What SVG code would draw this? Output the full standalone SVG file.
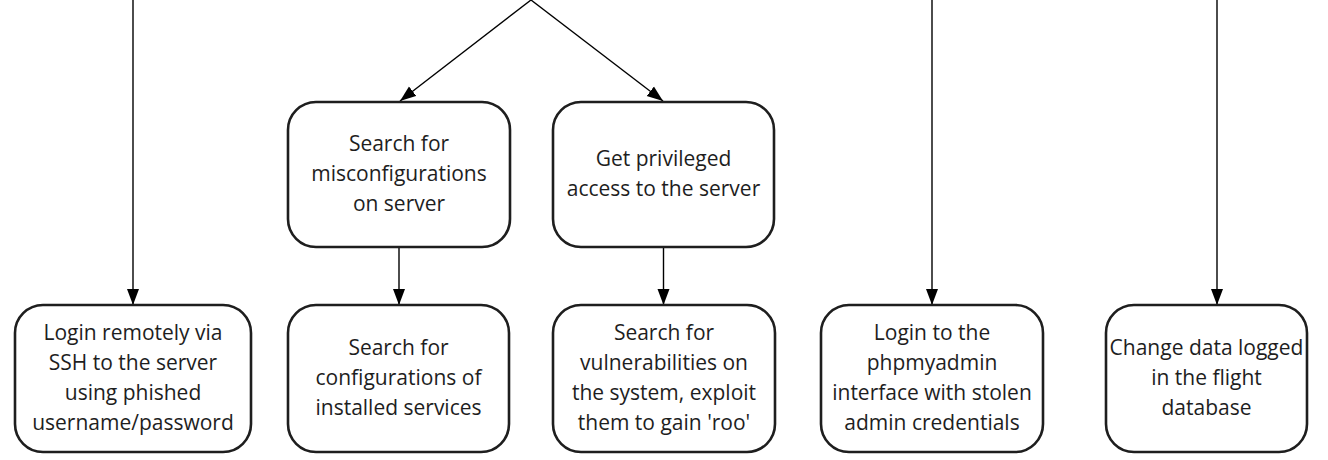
<svg xmlns="http://www.w3.org/2000/svg" width="1328" height="460" viewBox="0 0 1328 460">
  <defs>
    <marker id="arr" markerUnits="userSpaceOnUse" markerWidth="18" markerHeight="14" refX="16" refY="6.5" orient="auto">
      <path d="M0,0.5 L16,6.5 L0,12.5 z" fill="#000"/>
    </marker>
    <style>
      .box { fill: #fff; stroke: #1e1e1e; stroke-width: 2.6; }
      .edge { fill: none; stroke: #000; stroke-width: 1.4; marker-end: url(#arr); }
      text { font-family: "Open Sans", "Noto Sans", "Liberation Sans", sans-serif; font-size: 21px; fill: #1e1e1e; text-anchor: middle; }
    </style>
  </defs>
  <rect width="1328" height="460" fill="#fff"/>

  <g id="connectors">
    <path class="edge" d="M133,0 L133,305"/>
    <path class="edge" d="M531,0 L400,101"/>
    <path class="edge" d="M531,0 L663,101"/>
    <path class="edge" d="M399,247 L399,305"/>
    <path class="edge" d="M663.5,247 L663.5,305"/>
    <path class="edge" d="M932,0 L932,305"/>
    <path class="edge" d="M1217,0 L1217,305"/>
  </g>

  <g id="n-misconfig">
    <rect class="box" x="288" y="102" width="222" height="145" rx="28"/>
    <text x="399" y="151">Search for</text>
    <text x="399" y="181">misconfigurations</text>
    <text x="399" y="211">on server</text>
  </g>
  <g id="n-privileged">
    <rect class="box" x="553" y="102" width="221" height="145" rx="28"/>
    <text x="663.5" y="166">Get privileged</text>
    <text x="663.5" y="196">access to the server</text>
  </g>

  <g id="n-ssh">
    <rect class="box" x="15" y="305" width="236" height="147" rx="28"/>
    <text x="133" y="340">Login remotely via</text>
    <text x="133" y="370">SSH to the server</text>
    <text x="133" y="400">using phished</text>
    <text x="133" y="430">username/password</text>
  </g>
  <g id="n-configs">
    <rect class="box" x="288" y="305" width="221" height="147" rx="28"/>
    <text x="398.5" y="355">Search for</text>
    <text x="398.5" y="385">configurations of</text>
    <text x="398.5" y="415">installed services</text>
  </g>
  <g id="n-vulns">
    <rect class="box" x="553" y="305" width="222" height="147" rx="28"/>
    <text x="664" y="340">Search for</text>
    <text x="664" y="370">vulnerabilities on</text>
    <text x="664" y="400">the system, exploit</text>
    <text x="664" y="430">them to gain 'roo'</text>
  </g>
  <g id="n-phpmyadmin">
    <rect class="box" x="821" y="305" width="222" height="147" rx="28"/>
    <text x="932" y="340">Login to the</text>
    <text x="932" y="370">phpmyadmin</text>
    <text x="932" y="400">interface with stolen</text>
    <text x="932" y="430">admin credentials</text>
  </g>
  <g id="n-flightdb">
    <rect class="box" x="1106" y="305" width="201" height="147" rx="28"/>
    <text x="1206.5" y="355">Change data logged</text>
    <text x="1206.5" y="385">in the flight</text>
    <text x="1206.5" y="415">database</text>
  </g>
</svg>
